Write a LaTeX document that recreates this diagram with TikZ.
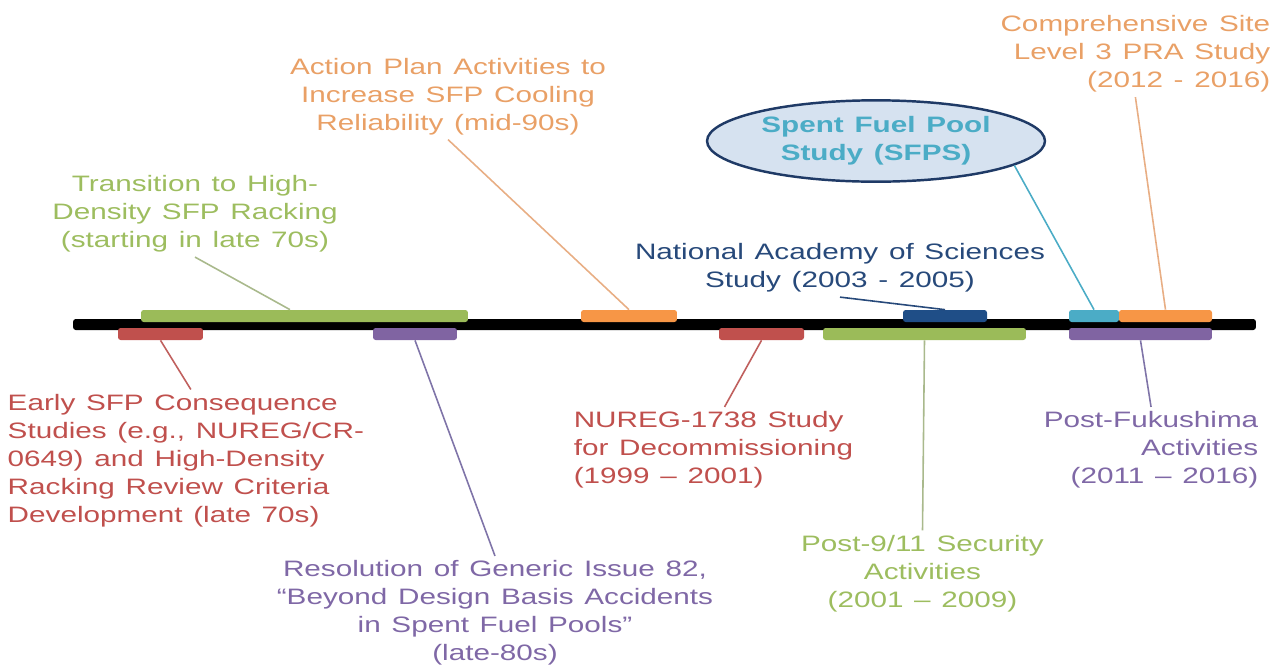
\documentclass[tikz,border=0pt]{standalone}
\usepackage{fontspec}
\setmainfont{Liberation Sans}[FakeStretch=1.33, WordSpace=1.3]
\usetikzlibrary{shapes.geometric}
\definecolor{tlgreen}{HTML}{9BBB59}
\definecolor{tlred}{HTML}{C0504D}
\definecolor{tlpurple}{HTML}{8064A2}
\definecolor{tlorange}{HTML}{F79646}
\definecolor{tlcyan}{HTML}{4BACC6}
\definecolor{tlblue}{HTML}{1F4E87}
\definecolor{txtgreen}{HTML}{9DBD5F}
\definecolor{txtorange}{HTML}{E9A066}
\definecolor{txtred}{HTML}{C0504D}
\definecolor{txtpurple}{HTML}{7F68A6}
\definecolor{nasblue}{HTML}{27497A}
\definecolor{lngreen}{HTML}{A9B98C}
\definecolor{lnorange}{HTML}{E8AE84}
\definecolor{lnred}{HTML}{C0605E}
\definecolor{lnpurple}{HTML}{7F74A8}
\definecolor{ellfill}{HTML}{D6E2F0}
\definecolor{elldraw}{HTML}{1F3A66}
\begin{document}
\begin{tikzpicture}[x=0.02cm, y=-0.02cm,
  bar/.style={rounded corners=1.5pt, inner sep=0pt, minimum height=0.24cm},
  lbl/.style={align=center, inner sep=2.5pt, font=\fontsize{12.7}{15.9}\selectfont},
  link/.style={line width=0.9pt}]
\useasboundingbox (0,0) rectangle (1285,667);
% timeline
\node[bar, fill=black, minimum width=23.66cm, minimum height=0.22cm] (line) at (664.5,324.5) {};
% bars above the line
\node[bar, fill=tlgreen, minimum width=6.54cm] (grn1) at (304.5,316) {};
\node[bar, fill=tlorange, minimum width=1.92cm] (org1) at (629,316) {};
\node[bar, fill=tlblue, minimum width=1.68cm] (blu) at (945,316) {};
\node[bar, fill=tlcyan, minimum width=1.0cm] (cyn) at (1094,316) {};
\node[bar, fill=tlorange, minimum width=1.86cm] (org2) at (1165.5,316) {};
% bars below the line
\node[bar, fill=tlred, minimum width=1.70cm] (red1) at (160.5,334) {};
\node[bar, fill=tlpurple, minimum width=1.68cm] (pur1) at (415,334) {};
\node[bar, fill=tlred, minimum width=1.70cm] (red2) at (761.5,334) {};
\node[bar, fill=tlgreen, minimum width=4.06cm] (grn2) at (924.5,334) {};
\node[bar, fill=tlpurple, minimum width=2.86cm] (pur2) at (1140.5,334) {};
% labels above
\node[lbl, text=txtorange] (act) at (448,96.5) {Action Plan Activities to\\Increase SFP Cooling\\Reliability (mid-90s)};
\node[lbl, text=txtgreen] (trans) at (195,214) {Transition to High-\\Density SFP Racking\\(starting in late 70s)};
\node[lbl, text=nasblue] (nas) at (840,268) {National Academy of Sciences\\Study (2003 - 2005)};
\node[lbl, ellipse, draw=elldraw, line width=1.4pt, fill=ellfill, text=tlcyan, font=\fontsize{12.7}{15.9}\selectfont\bfseries, minimum width=6.76cm, minimum height=1.6cm] (sfps) at (876,141) {Spent Fuel Pool\\Study (SFPS)};
\node[lbl, align=right, anchor=east, text=txtorange] (comp) at (1275,54) {Comprehensive Site\\Level 3 PRA Study\\(2012 - 2016)};
% labels below
\node[lbl, align=left, anchor=west, text=txtred] (early) at (3,460.5) {Early SFP Consequence\\Studies (e.g., NUREG/CR-\\0649) and High-Density\\Racking Review Criteria\\Development (late 70s)};
\node[lbl, text=txtpurple] (resol) at (495,613) {Resolution of Generic Issue 82,\\“Beyond Design Basis Accidents\\in Spent Fuel Pools”\\(late-80s)};
\node[lbl, align=left, anchor=west, text=txtred] (nureg) at (569,450) {NUREG-1738 Study\\for Decommissioning\\(1999 -- 2001)};
\node[lbl, text=txtgreen] (sec) at (922.5,573.5) {Post-9/11 Security\\Activities\\(2001 -- 2009)};
\node[lbl, align=right, anchor=east, text=txtpurple] (fuku) at (1263,450) {Post-Fukushima\\Activities\\(2011 -- 2016)};
% leader lines
\draw[link, draw=lnorange] (act.south) -- (org1.north);
\draw[link, draw=lngreen] (trans.south) -- ([xshift=-0.29cm]grn1.north);
\draw[link, draw=nasblue] (nas.south) -- (blu.north);
\draw[link, draw=tlcyan] (sfps.-10) -- (cyn.north);
\draw[link, draw=lnorange] (comp.south) -- (org2.north);
\draw[link, draw=lnred] (red1.south) -- ([xshift=0.1cm]early.north);
\draw[link, draw=lnpurple] (pur1.south) -- (resol.north);
\draw[link, draw=lnred] (red2.south) -- ([xshift=0.22cm]nureg.north);
\draw[link, draw=lngreen] (grn2.south) -- (sec.north);
\draw[link, draw=lnpurple] (pur2.south) -- (fuku.north);
\end{tikzpicture}
\end{document}
